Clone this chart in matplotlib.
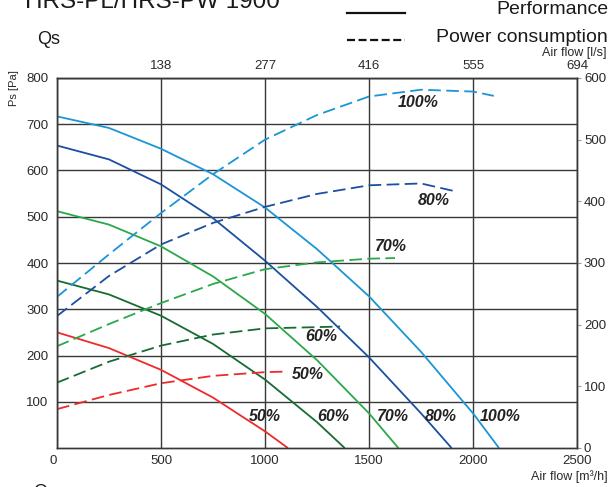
import matplotlib
matplotlib.use("Agg")
import matplotlib.pyplot as plt
import numpy as np

plt.rcParams['font.family'] = ['Liberation Sans', 'DejaVu Sans']

# fan curves
speeds = ['100%', '80%', '70%', '60%', '50%']
colors = ['#1b95d6', '#1c4fa1', '#2aa84a', '#186b32', '#ee2a2a']

# static pressure [Pa] vs air flow [m3/h]
p_flow = {
    '100%': [0, 250, 500, 750, 1000, 1250, 1500, 1750, 2000, 2125],
    '80%': [0, 250, 500, 750, 1000, 1250, 1500, 1750, 1897],
    '70%': [0, 250, 500, 750, 1000, 1250, 1500, 1641],
    '60%': [0, 250, 500, 750, 1000, 1250, 1383],
    '50%': [0, 250, 500, 750, 1000, 1110],
}
p_pa = {
    '100%': [717, 692, 647, 592, 520, 430, 328, 208, 75, 0],
    '80%': [654, 624, 570, 497, 405, 305, 196, 75, 0],
    '70%': [512, 483, 436, 371, 290, 190, 75, 0],
    '60%': [362, 332, 286, 225, 148, 56, 0],
    '50%': [250, 216, 169, 109, 36, 0],
}

# power consumption [W] vs air flow [m3/h]
w_flow = {
    '100%': [0, 250, 500, 750, 1000, 1250, 1500, 1750, 2000, 2100],
    '80%': [0, 250, 500, 750, 1000, 1250, 1500, 1750, 1905],
    '70%': [0, 250, 500, 750, 1000, 1250, 1500, 1625],
    '60%': [0, 250, 500, 750, 1000, 1250, 1361],
    '50%': [0, 250, 500, 750, 1000, 1110],
}
w_power = {
    '100%': [245, 314, 381, 444, 500, 540, 570, 581, 578, 571],
    '80%': [214, 279, 330, 365, 391, 412, 426, 429, 417],
    '70%': [165, 201, 235, 266, 290, 301, 307, 308],
    '60%': [106, 140, 166, 184, 194, 196, 197],
    '50%': [63, 86, 105, 117, 123, 124],
}

# where the speed labels sit (flow, Pa)
top_lab = {'100%': (1736, 746), '80%': (1812, 536), '70%': (1606, 435),
           '60%': (1269, 241), '50%': (1208, 159)}
bot_lab = {'100%': (2133, 68), '80%': (1846, 68), '70%': (1615, 68),
           '60%': (1330, 68), '50%': (1000, 68)}

xticks = [0, 500, 1000, 1500, 2000, 2500]
ls_labels = ['138', '277', '416', '555', '694']
yticks = [100, 200, 300, 400, 500, 600, 700, 800]
wticks = [0, 100, 200, 300, 400, 500, 600]

gridc = '#383838'
textc = '#2a2a2a'

fig = plt.figure(figsize=(6.1, 4.87), dpi=100)
ax = fig.add_axes([57 / 610, 1 - 448 / 487, 520 / 610, 370 / 487])
axw = ax.twinx()

for s, c in zip(speeds, colors):
    ax.plot(p_flow[s], p_pa[s], color=c, lw=1.3, solid_capstyle='butt')
    axw.plot(w_flow[s], w_power[s], color=c, lw=1.3, dashes=(7, 3))
    ax.text(*top_lab[s], s, ha='center', va='center', fontsize=11.5,
            fontweight='bold', fontstyle='italic', color='#222222')
    ax.text(*bot_lab[s], s, ha='center', va='center', fontsize=11.5,
            fontweight='bold', fontstyle='italic', color='#222222')

ax.set_xlim(0, 2500)
ax.set_ylim(0, 800)
axw.set_ylim(0, 600)

ax.set_xticks(xticks)
ax.set_yticks(yticks)
ax.grid(True, color=gridc, lw=1.0)
ax.set_axisbelow(True)
ax.tick_params(length=0, labelsize=9.5, labelcolor=textc)
ax.tick_params(axis='x', pad=5)
ax.tick_params(axis='y', pad=6)
for lab in ax.get_xticklabels():
    if lab.get_text() == '0':
        lab.set_horizontalalignment('right')
axw.set_yticks(wticks)
axw.tick_params(length=3, color='#999999', labelsize=9.5, labelcolor=textc, pad=2)
for sp in list(ax.spines.values()) + list(axw.spines.values()):
    sp.set_color(gridc)
    sp.set_linewidth(1.0)

sec = ax.secondary_xaxis('top')
sec.set_xticks(xticks[1:], labels=ls_labels)
sec.tick_params(length=0, labelsize=9.5, labelcolor=textc, pad=4)

# headings and legend
fig.text(25 / 610, 1 - 8 / 487, 'HRS-PL/HRS-PW 1900', fontsize=17.5,
         color='#1a1a1a', va='baseline')
fig.text(37 / 610, 1 - 39 / 487, 'Qs', fontsize=13, color='#1a1a1a', va='center')
fig.text(33 / 610, 1 - 497 / 487, 'Qs', fontsize=13, color='#1a1a1a', va='baseline')
fig.text(608 / 610, 1 - 10 / 487, 'Performance', fontsize=14, color='#1a1a1a',
         ha='right', va='center')
fig.text(608 / 610, 1 - 37 / 487, 'Power consumption', fontsize=14,
         color='#1a1a1a', ha='right', va='center')
fig.add_artist(plt.Line2D([347 / 610, 405 / 610], [1 - 13 / 487, 1 - 13 / 487],
                          color='#111111', lw=1.6))
fig.add_artist(plt.Line2D([347 / 610, 405 / 610], [1 - 40 / 487, 1 - 40 / 487],
                          color='#111111', lw=1.6, dashes=(3.6, 1.6)))
fig.text(607 / 610, 1 - 53 / 487, 'Air flow [l/s]', fontsize=9, color=textc,
         ha='right', va='center')
fig.text(608 / 610, 1 - 477 / 487, 'Air flow [m³/h]', fontsize=9, color=textc,
         ha='right', va='center')
fig.text(14 / 610, 1 - 88 / 487, 'Ps [Pa]', fontsize=8, color=textc,
         rotation=90, ha='center', va='center')

fig.savefig('out.png', dpi=100)
